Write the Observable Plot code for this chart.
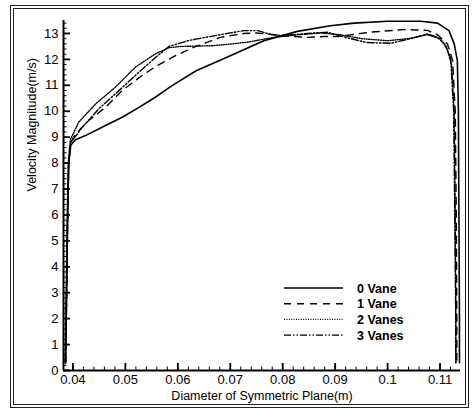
<!DOCTYPE html>
<html>
<head>
<meta charset="utf-8">
<script src="https://cdn.jsdelivr.net/npm/d3@7"></script>
<script src="https://cdn.jsdelivr.net/npm/@observablehq/plot@0.6"></script>
<style>
  body { margin: 0; background: #fff; }
  #wrap { position: relative; width: 472px; height: 409px; font-family: "Liberation Sans", Arial, sans-serif; }
  #frame { position: absolute; left: 10px; top: 5px; width: 459px; height: 403px; box-sizing: border-box; border: 4px double #222; }
  #chart { position: absolute; left: 0; top: 0; }
  #legend { position: absolute; left: 0; top: 0; }
</style>
</head>
<body>
<div id="wrap">
  <div id="frame"></div>
  <div id="chart"></div>
  <svg id="legend" width="472" height="409"></svg>
</div>
<script>
// ---- data ----
const seriesNames = ["0 Vane", "1 Vane", "2 Vanes", "3 Vanes"];
const seriesDash = [null, "7,6", "1,1.4", "7,2,1.5,2,1.5,2"];

const vane0 = [
  [0.0386,0.3],[0.0388,3],[0.0390,6],[0.0392,8],[0.0396,8.7],[0.0405,8.9],[0.0424,9.06],
  [0.0462,9.45],[0.0494,9.77],[0.0526,10.15],[0.0557,10.54],[0.0589,10.99],[0.0634,11.55],
  [0.0701,12.15],[0.0764,12.72],[0.0828,13.08],[0.0891,13.3],[0.0936,13.4],[0.1000,13.47],
  [0.1063,13.47],[0.1095,13.4],[0.1117,13.11],[0.1127,12.6],[0.1133,11.96],[0.1135,10],
  [0.1136,6],[0.1137,2],[0.1137,0.3]
];
const vane1 = [
  [0.0386,0.3],[0.0388,3],[0.0390,6],[0.0392,8],[0.0396,8.8],[0.0405,9.13],[0.0430,9.64],
  [0.0462,10.15],[0.0494,10.8],[0.0532,11.38],[0.0557,11.72],[0.0596,12.15],[0.0631,12.47],
  [0.0681,12.85],[0.0726,13.0],[0.0750,13.02],[0.0796,12.92],[0.0847,12.85],[0.0878,12.88],
  [0.0904,12.88],[0.0968,13.05],[0.1031,13.15],[0.1076,13.12],[0.1095,12.95],[0.1114,12.6],
  [0.1124,11.96],[0.1129,10],[0.1131,6],[0.1132,2],[0.1132,0.3]
];
const vane2 = [
  [0.0385,0.3],[0.0387,3],[0.0389,6],[0.0391,8],[0.0395,8.9],[0.0411,9.58],[0.0443,10.28],
  [0.0481,10.93],[0.0519,11.7],[0.0557,12.21],[0.0583,12.45],[0.0605,12.5],[0.0669,12.53],
  [0.0732,12.66],[0.0783,12.85],[0.0830,12.95],[0.0872,13.02],[0.0910,12.95],[0.0950,12.8],
  [0.1000,12.72],[0.1040,12.8],[0.1076,12.95],[0.1100,12.8],[0.1112,12.5],[0.1122,11.8],
  [0.1127,10],[0.1129,6],[0.1130,2],[0.1130,0.3]
];
const vane3 = [
  [0.0386,0.3],[0.0388,3],[0.0390,6],[0.0392,8],[0.0396,8.8],[0.0418,9.38],[0.0449,10.09],
  [0.0481,10.67],[0.0519,11.38],[0.0551,11.96],[0.0583,12.5],[0.0621,12.73],[0.0637,12.79],
  [0.0688,12.98],[0.0726,13.11],[0.0752,13.11],[0.0774,12.98],[0.0796,12.92],[0.0860,13.02],
  [0.0885,13.05],[0.0920,12.85],[0.0960,12.65],[0.1006,12.62],[0.1040,12.78],[0.1076,12.98],
  [0.1095,12.85],[0.1108,12.6],[0.1120,12.1],[0.1126,10],[0.1128,6],[0.1130,2],[0.1130,0.3]
];

const xTicks = [0.04, 0.05, 0.06, 0.07, 0.08, 0.09, 0.10, 0.11];
const xTickLabels = ["0.04", "0.05", "0.06", "0.07", "0.08", "0.09", "0.1", "0.11"];
const yTicks = [0,1,2,3,4,5,6,7,8,9,10,11,12,13];
const xMinorTicks = d3.range(0, 38).map(i => +(0.038 + i * 0.002).toFixed(3)).filter(v => v >= 0.0384 && v <= 0.1138);
const yMinorTicks = d3.range(1, 68).map(i => +(i * 0.2).toFixed(1));

const xLabel = "Diameter of Symmetric Plane(m)";
const yLabel = "Velocity Magnitude(m/s)";

const allSeries = [vane0, vane1, vane2, vane3];
const xDomain = [0.0382, 0.1139];
const yDomain = [0, 13.5];

const W = 472, H = 409, mL = 63, mR = 12, mT = 20, mB = 39;
const plotW = W - mL - mR, plotH = H - mT - mB;
// tick lengths converted to data units (major 7px, minor 3.5px)
const yPerPx = (yDomain[1] - yDomain[0]) / plotH;
const xPerPx = (xDomain[1] - xDomain[0]) / plotW;

const lineMarks = allSeries.map((s, i) =>
  Plot.line(s, {x: d => d[0], y: d => d[1], stroke: "#000", strokeWidth: i === 0 ? 1.6 : 1.4,
    strokeDasharray: seriesDash[i]})
);

const chart = Plot.plot({
  width: W, height: H,
  marginLeft: mL, marginRight: mR, marginTop: mT, marginBottom: mB,
  style: {fontFamily: "'Liberation Sans', Arial, sans-serif", fontSize: "13px", background: "transparent", color: "#000"},
  x: {domain: xDomain, label: null},
  y: {domain: yDomain, label: null},
  marks: [
    Plot.axisX({ticks: xTicks, tickSize: 0, tickPadding: 4, tickFormat: (d, i) => xTickLabels[i], label: null, fontSize: 13}),
    Plot.axisY({ticks: yTicks, tickSize: 0, tickPadding: 5, label: null, fontSize: 13}),
    // inward major / minor ticks
    Plot.ruleX(xTicks, {x: d => d, y1: yDomain[0], y2: yDomain[0] + 7 * yPerPx, stroke: "#000", strokeWidth: 1.8}),
    Plot.ruleX(xMinorTicks, {x: d => d, y1: yDomain[0], y2: yDomain[0] + 3.5 * yPerPx, stroke: "#000", strokeWidth: 1}),
    Plot.ruleY(yTicks, {y: d => d, x1: xDomain[0], x2: xDomain[0] + 7 * xPerPx, stroke: "#000", strokeWidth: 1.8}),
    Plot.ruleY(yMinorTicks, {y: d => d, x1: xDomain[0], x2: xDomain[0] + 3.5 * xPerPx, stroke: "#000", strokeWidth: 1}),
    Plot.ruleY([yDomain[0]], {stroke: "#000", strokeWidth: 2}),
    Plot.ruleX([xDomain[0]], {stroke: "#000", strokeWidth: 2}),
    ...lineMarks,
    Plot.text([xLabel], {text: d => d, frameAnchor: "bottom", dy: 25, fontSize: 12.5, lineAnchor: "middle"}),
    Plot.text([yLabel], {text: d => d, frameAnchor: "left", rotate: -90, dx: -32, dy: -4, fontSize: 12.5, lineAnchor: "middle"})
  ]
});
document.getElementById("chart").appendChild(chart);

// legend
const lg = d3.select("#legend");
seriesNames.forEach((name, i) => {
  const y = 288 + i * 15.7;
  lg.append("line").attr("x1", 284).attr("x2", 343).attr("y1", y).attr("y2", y)
    .attr("stroke", "#000").attr("stroke-width", i === 0 ? 1.6 : 1.4)
    .attr("stroke-dasharray", seriesDash[i]);
  lg.append("text").attr("x", 357).attr("y", y + 4.5).text(name)
    .attr("font-family", "'Liberation Sans', Arial, sans-serif").attr("font-weight", "bold")
    .attr("font-size", 12.5).attr("fill", "#000");
});
</script>
</body>
</html>
